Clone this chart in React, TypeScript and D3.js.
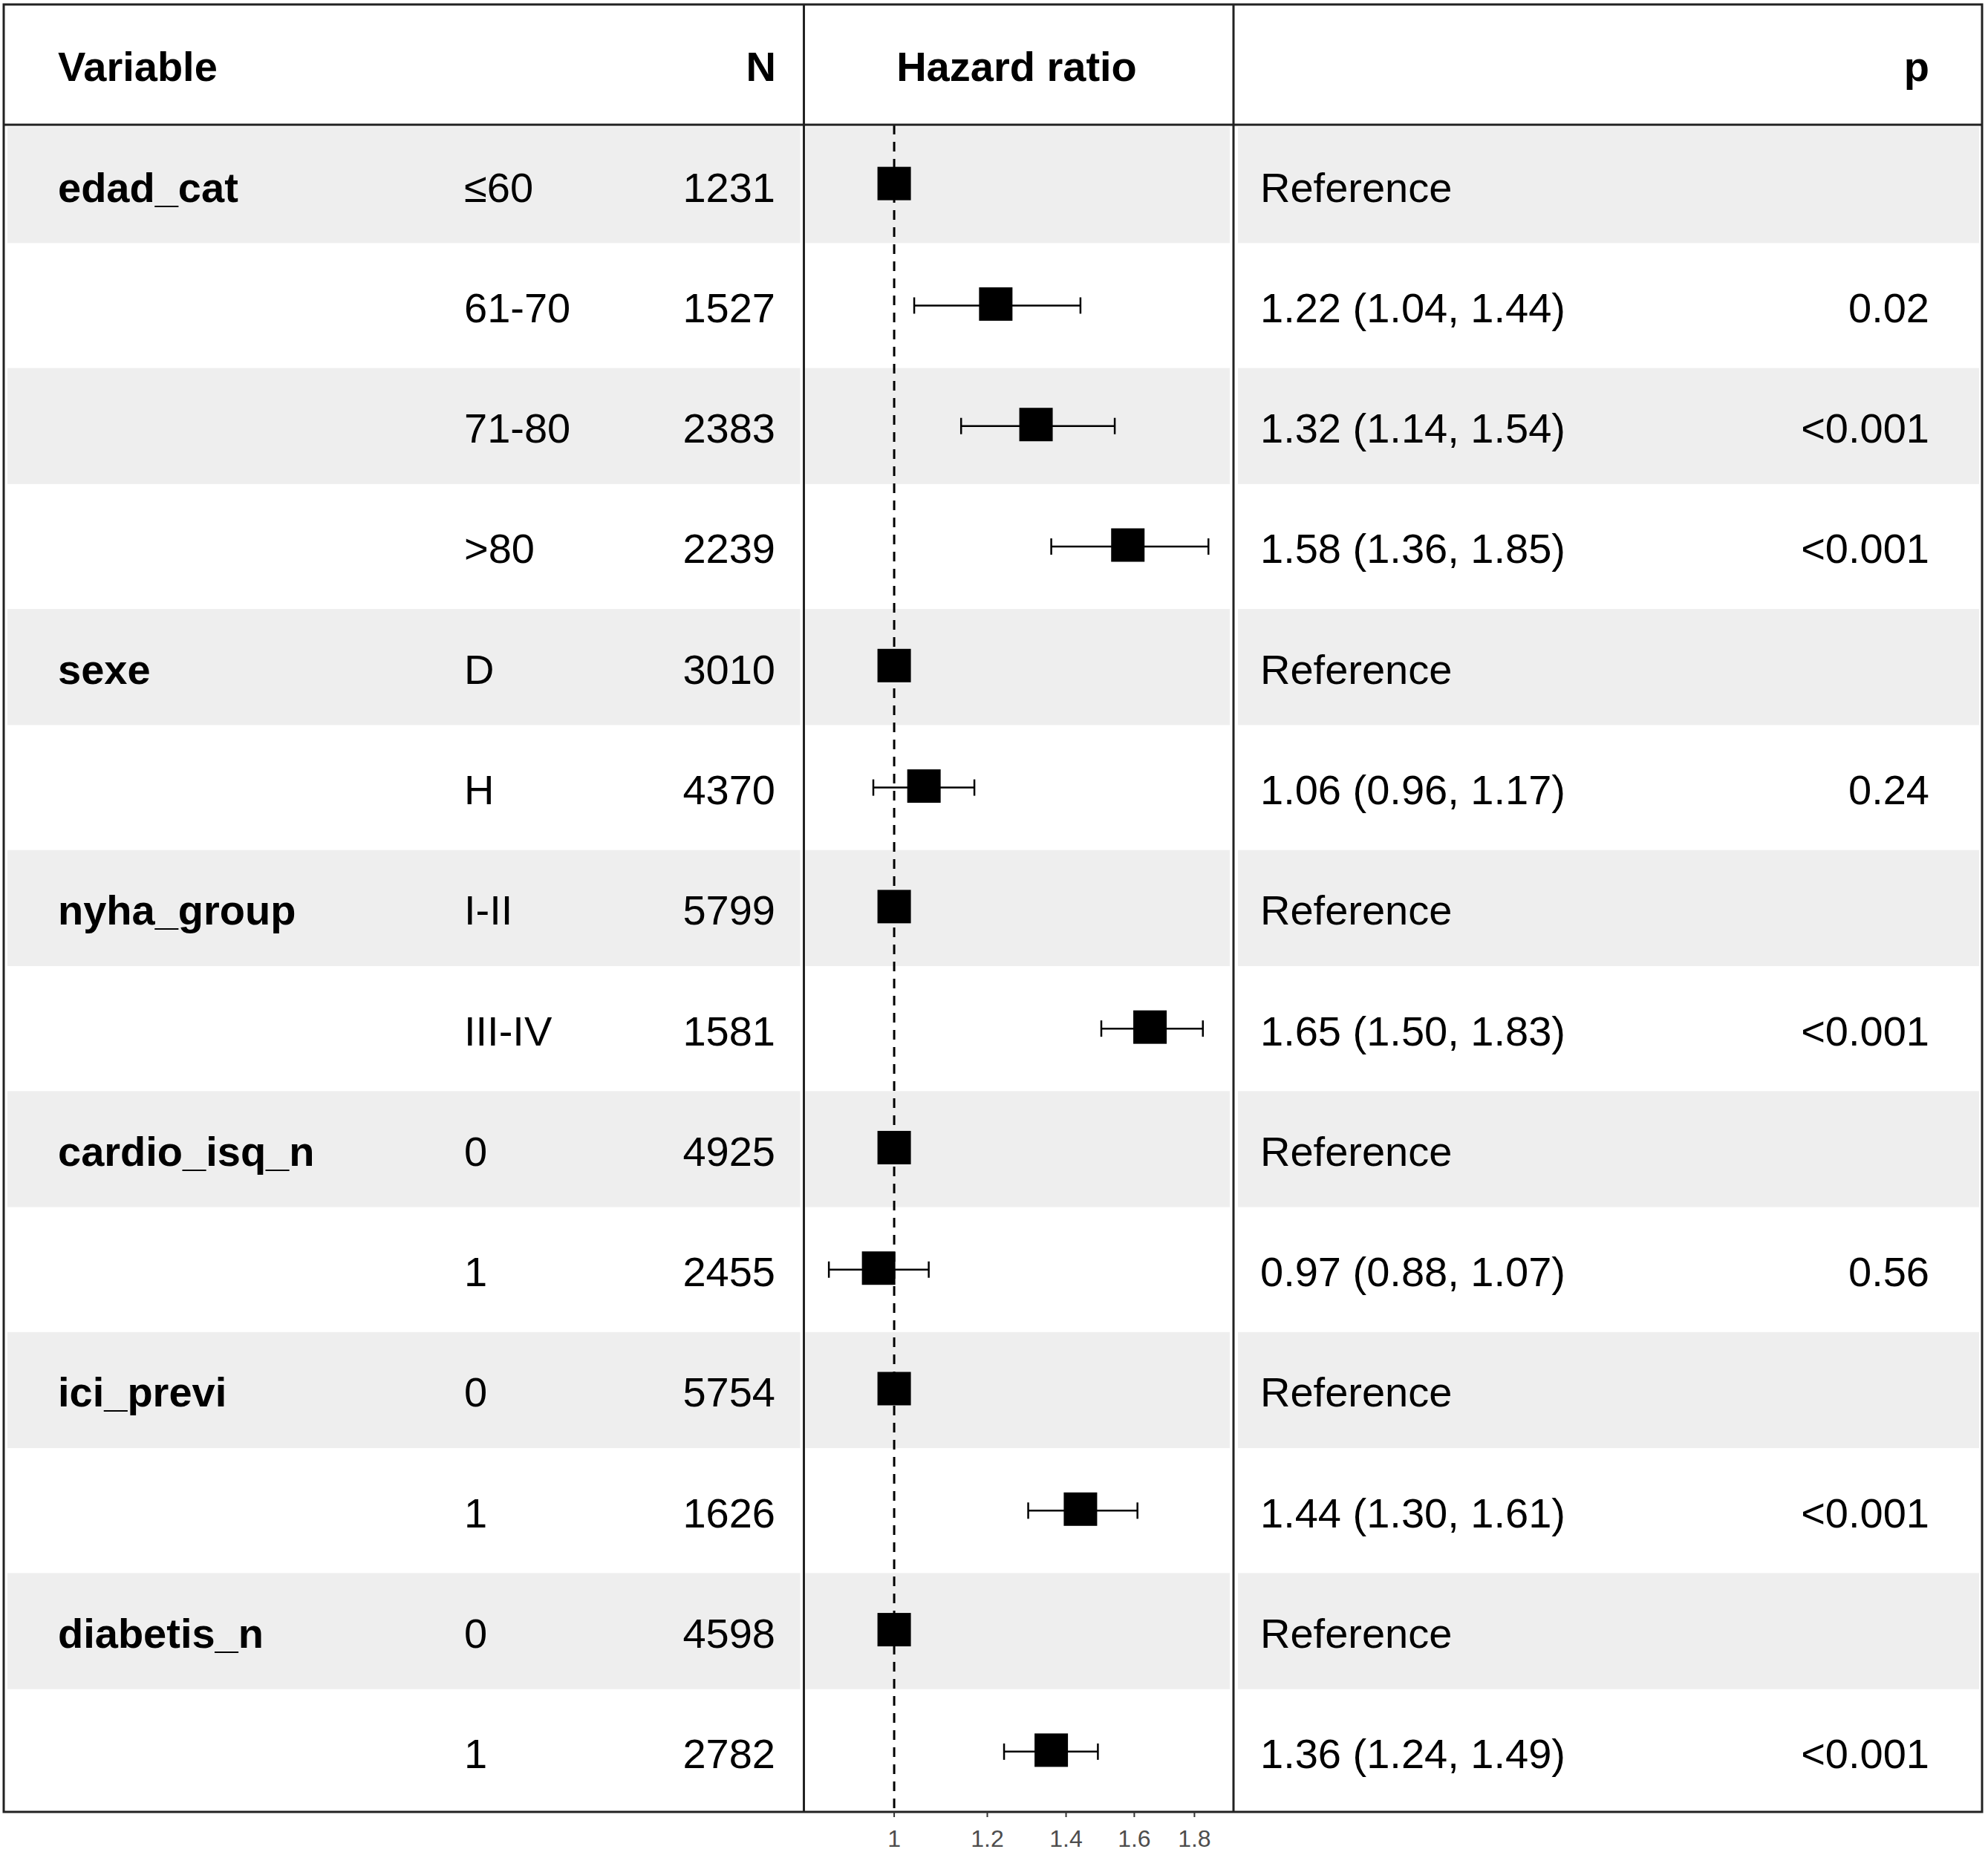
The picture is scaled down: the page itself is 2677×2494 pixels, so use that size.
import React from "react";
import * as d3 from "d3";

// rows of the forest table
const variables = ["edad_cat", "", "", "", "sexe", "", "nyha_group", "", "cardio_isq_n", "", "ici_previ", "", "diabetis_n", ""];
const levels = ["≤60", "61-70", "71-80", ">80", "D", "H", "I-II", "III-IV", "0", "1", "0", "1", "0", "1"];
const nValues = [1231, 1527, 2383, 2239, 3010, 4370, 5799, 1581, 4925, 2455, 5754, 1626, 4598, 2782];
const hazard = [1, 1.22, 1.32, 1.58, 1, 1.06, 1, 1.65, 1, 0.97, 1, 1.44, 1, 1.36];
const lower: (number | null)[] = [null, 1.04, 1.14, 1.36, null, 0.96, null, 1.50, null, 0.88, null, 1.30, null, 1.24];
const upper: (number | null)[] = [null, 1.44, 1.54, 1.85, null, 1.17, null, 1.83, null, 1.07, null, 1.61, null, 1.49];
const pValues = ["", "0.02", "<0.001", "<0.001", "", "0.24", "", "<0.001", "", "0.56", "", "<0.001", "", "<0.001"];
const xTicks = [1, 1.2, 1.4, 1.6, 1.8];
const xDomain: [number, number] = [0.838, 1.943];

const W = 2677;
const H = 2494;
const FONT = "'Liberation Sans', Arial, sans-serif";

export default function App() {
    const top = 6;
    const headerBottom = 168;
    const bottom = 2440;
    const left = 5;
    const right = 2669;
    const panelL = 1082.5;
    const panelR = 1661;
    const rowH = (bottom - headerBottom) / variables.length;

    const x = d3.scaleLog(xDomain, [panelL, panelR]);
    const rowY = d3.scaleLinear([0, variables.length], [headerBottom, bottom]);
    const box = 45;
    const cap = 11;

    const estimate = (i: number) => {
        if (lower[i] === null) return "Reference";
        return `${hazard[i].toFixed(2)} (${lower[i]!.toFixed(2)}, ${upper[i]!.toFixed(2)})`;
    };

    const textProps = { fontFamily: FONT, fontSize: 56, fill: "black", dy: "0.4em" };

    return <svg width={W} height={H} style={{ position: "absolute", left: 0, top: 0, background: "white" }}>
        <rect x={0} y={0} width={W} height={H} fill="white" />
        {/* stripes */}
        {variables.map((_, i) => i % 2 === 0 ? (
            <g key={"s" + i} fill="#EEEEEE">
                <rect x={10} y={rowY(i) + 3} width={panelL - 5 - 10} height={rowH - 6} />
                <rect x={panelL + 2} y={rowY(i) + 3} width={panelR - 5 - panelL - 2} height={rowH - 6} />
                <rect x={panelR + 6} y={rowY(i) + 3} width={right - 4 - panelR - 6} height={rowH - 6} />
            </g>
        ) : null)}

        {/* header */}
        <g fontFamily={FONT} fontSize={56} fontWeight="bold">
            <text x={78} y={(top + headerBottom) / 2} dy="0.4em">Variable</text>
            <text x={1045} y={(top + headerBottom) / 2} dy="0.4em" textAnchor="end">N</text>
            <text x={1369} y={(top + headerBottom) / 2} dy="0.4em" textAnchor="middle">Hazard ratio</text>
            <text x={2598} y={(top + headerBottom) / 2} dy="0.4em" textAnchor="end">p</text>
        </g>

        {/* reference line */}
        <line x1={x(1)} x2={x(1)} y1={headerBottom} y2={bottom} stroke="black" strokeWidth={3} strokeDasharray="13,10" />

        {/* rows */}
        {variables.map((v, i) => {
            const cy = rowY(i) + rowH / 2;
            return <g key={"r" + i}>
                <text {...textProps} x={78} y={cy} fontWeight="bold">{v}</text>
                <text {...textProps} x={625} y={cy}>{levels[i]}</text>
                <text {...textProps} x={1044} y={cy} textAnchor="end">{nValues[i]}</text>
                <text {...textProps} x={1697} y={cy}>{estimate(i)}</text>
                <text {...textProps} x={2598} y={cy} textAnchor="end">{pValues[i]}</text>
                {lower[i] !== null && (
                    <g stroke="black" strokeWidth={2.5}>
                        <line x1={x(lower[i]!)} x2={x(upper[i]!)} y1={cy} y2={cy} />
                        <line x1={x(lower[i]!)} x2={x(lower[i]!)} y1={cy - cap} y2={cy + cap} />
                        <line x1={x(upper[i]!)} x2={x(upper[i]!)} y1={cy - cap} y2={cy + cap} />
                    </g>
                )}
                <rect x={x(hazard[i]) - box / 2} y={cy - box / 2 - 2} width={box} height={box} fill="black" />
            </g>;
        })}

        {/* table lines */}
        <g stroke="#222" strokeWidth={3} fill="none">
            <rect x={left} y={top} width={right - left} height={bottom - top} />
            <line x1={left} x2={right} y1={headerBottom} y2={headerBottom} />
            <line x1={panelL} x2={panelL} y1={top} y2={bottom} />
            <line x1={panelR} x2={panelR} y1={top} y2={bottom} />
        </g>

        {/* axis */}
        <g>
            {xTicks.map(t => (
                <g key={"t" + t}>
                    <line x1={x(t)} x2={x(t)} y1={bottom} y2={bottom + 7} stroke="#333" strokeWidth={2} />
                    <text x={x(t)} y={bottom + 36} dy="0.35em" textAnchor="middle" fontFamily={FONT} fontSize={32} fill="#4D4D4D">{t}</text>
                </g>
            ))}
        </g>
    </svg>;
}
